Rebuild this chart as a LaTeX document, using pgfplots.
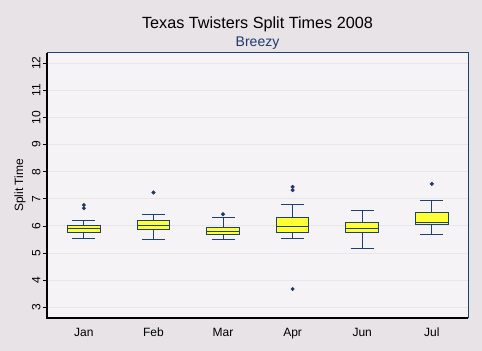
\documentclass[border=0pt]{standalone}
\usepackage{pgfplots}
\pgfplotsset{compat=1.18}
\usepgfplotslibrary{statistics}
\usepackage{fontspec}
\setmainfont{Liberation Sans}
\definecolor{outerbg}{RGB}{231,227,231}
\definecolor{plotbg}{RGB}{246,243,246}
\definecolor{gridc}{RGB}{234,229,234}
\definecolor{boxline}{RGB}{28,64,112}
\definecolor{boxfill}{RGB}{255,255,51}
\definecolor{outc}{RGB}{31,56,100}
\definecolor{subc}{RGB}{31,56,110}
\pgfplotsset{bx/.style={solid, draw=boxline, line width=1bp, fill=boxfill,
     mark=*, mark size=1.8bp, mark options={solid, fill=outc, draw=outc, line width=0.4bp}}}
\begin{document}
\begin{tikzpicture}
\fill[outerbg] (-47bp,-33bp) rectangle (435bp,318bp);
\begin{axis}[
  scale only axis, width=421bp, height=265bp,
  anchor=south west, at={(0,0)},
  xmin=-0.53, xmax=5.52, ymin=2.6, ymax=12.38,
  axis background/.style={fill=plotbg},
  axis line style={draw=none},
  xtick={0,1,2,3,4,5},
  xticklabels={Jan,Feb,Mar,Apr,Jun,Jul},
  major x tick style={draw=none},
  ytick={3,4,5,6,7,8,9,10,11,12},
  ytick pos=left, tick align=outside,
  major tick length=4bp,
  major y tick style={black, line width=0.6bp},
  ymajorgrids, grid style={gridc, line width=0.8bp},
  /pgf/number format/assume math mode=true,
  yticklabel style={rotate=90, anchor=south, yshift=-1bp},
  ticklabel style={font=\fontsize{12bp}{14bp}\selectfont},
  xticklabel style={yshift=-2bp, text height=9bp, text depth=2.5bp},
  ylabel={Split Time},
  ylabel style={font=\fontsize{12bp}{14bp}\selectfont, at={(axis description cs:-0.064,0.5)}, anchor=center},
  boxplot/draw direction=y,
  boxplot/box extend=0.47,
  boxplot/whisker extend=0.33,
]
\addplot+[bx, boxplot prepared={draw position=0, lower whisker=5.53, lower quartile=5.74, median=5.89, upper quartile=6.00, upper whisker=6.19}]
  table[row sep=\\, y index=0] {data\\ 6.77\\ 6.65\\};
\addplot+[bx, boxplot prepared={draw position=1, lower whisker=5.49, lower quartile=5.85, median=6.00, upper quartile=6.19, upper whisker=6.41}]
  table[row sep=\\, y index=0] {data\\ 7.23\\};
\addplot+[bx, boxplot prepared={draw position=2, lower whisker=5.49, lower quartile=5.70, median=5.80, upper quartile=5.95, upper whisker=6.30}]
  table[row sep=\\, y index=0] {data\\ 6.43\\};
\addplot+[bx, boxplot prepared={draw position=3, lower whisker=5.55, lower quartile=5.74, median=5.96, upper quartile=6.30, upper whisker=6.78}]
  table[row sep=\\, y index=0] {data\\ 7.44\\ 7.32\\ 3.67\\};
\addplot+[bx, boxplot prepared={draw position=4, lower whisker=5.18, lower quartile=5.74, median=5.89, upper quartile=6.11, upper whisker=6.56}]
  coordinates {};
\addplot+[bx, boxplot prepared={draw position=5, lower whisker=5.70, lower quartile=6.04, median=6.11, upper quartile=6.49, upper whisker=6.93}]
  table[row sep=\\, y index=0] {data\\ 7.55\\};
\end{axis}
\draw[boxline, line width=1bp] (0,265bp) -- (421bp,265bp) -- (421bp,0);
\draw[black, line width=1.2bp] (0,265bp) -- (0,0) -- (421bp,0);
\node[font=\fontsize{16.2bp}{18bp}\selectfont] at (210.5bp,294bp) {Texas Twisters Split Times 2008};
\node[font=\fontsize{14bp}{16bp}\selectfont, text=subc] at (210.5bp,274.5bp) {Breezy};
\pgfresetboundingbox
\path[use as bounding box] (-47bp,-33bp) rectangle (435bp,318bp);
\end{tikzpicture}
\end{document}
